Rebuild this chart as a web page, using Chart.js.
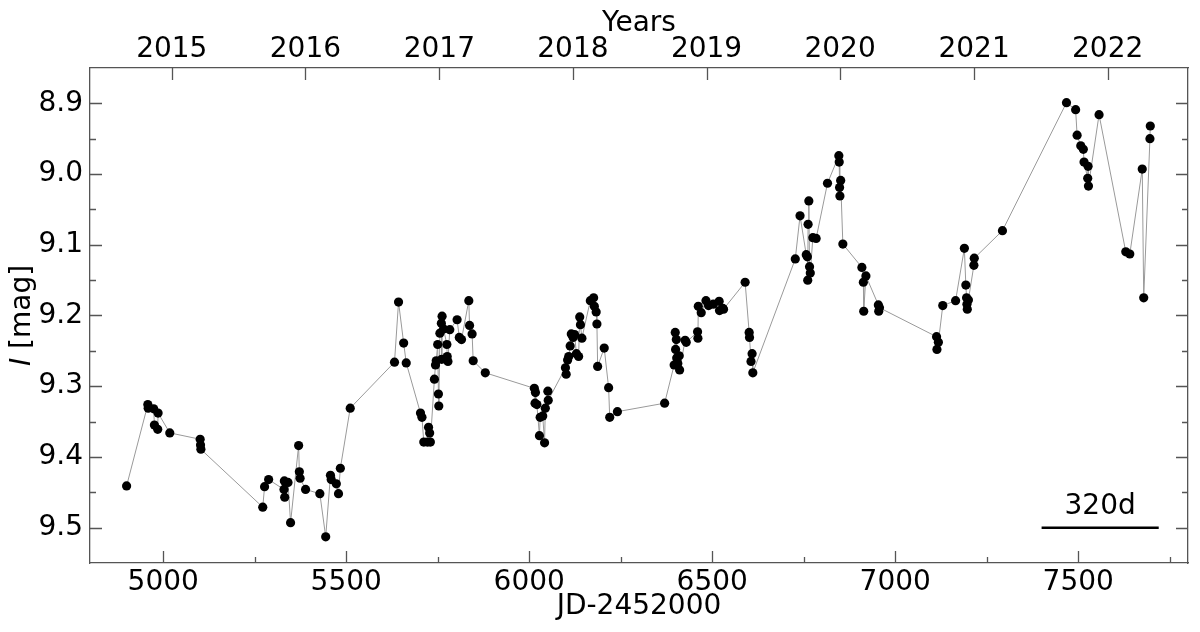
<!DOCTYPE html>
<html>
<head>
<meta charset="utf-8">
<script src="https://cdn.jsdelivr.net/npm/chart.js@4/dist/chart.umd.min.js"></script>
<style>
body { margin: 0; background: #fff; }
#wrap { width: 1200px; height: 632px; position: relative; }
</style>
</head>
<body>
<div id="wrap"><canvas id="lightCurve"></canvas></div>
<script>
// JD-2452000 and I magnitude
var jd = [4900, 4958, 4959, 4974, 4976, 4985, 4986, 5018, 5101, 5102, 5103,
    5272, 5277, 5288, 5330, 5331, 5332, 5341, 5348, 5370, 5372, 5374, 5389,
    5428, 5444, 5457, 5459, 5473, 5479, 5484, 5511,
    5632, 5643, 5657, 5664, 5703, 5707, 5712, 5722, 5725, 5728, 5730,
    5741, 5744, 5746, 5750, 5752, 5753, 5756, 5760, 5761, 5762, 5766,
    5775, 5776, 5778, 5783, 5803, 5809, 5815, 5835, 5837, 5844, 5847, 5880,
    6014, 6016, 6017, 6021, 6028, 6030, 6037, 6042, 6044, 6051, 6052,
    6099, 6101, 6105, 6108, 6112, 6115, 6120, 6124, 6129, 6135, 6138, 6140,
    6144, 6167, 6176, 6178, 6183, 6185, 6187, 6205, 6217, 6220, 6241,
    6370, 6396, 6399, 6400, 6402, 6403, 6406, 6410, 6411, 6426, 6429,
    6460, 6461, 6462, 6470, 6483, 6490, 6503, 6519, 6520, 6529, 6531,
    6590, 6601, 6602, 6606, 6609, 6611,
    6727, 6740, 6757, 6760, 6761, 6762, 6764, 6766, 6768, 6775, 6784,
    6815, 6846, 6847, 6848, 6849, 6851, 6857, 6909, 6913, 6914, 6920,
    6954, 6955, 6957,
    7113, 7114, 7118, 7130, 7165, 7189, 7193, 7195, 7196, 7197, 7200,
    7215, 7216, 7293,
    7468, 7493, 7497, 7507, 7514, 7516, 7526, 7527, 7528, 7557,
    7630, 7641, 7675, 7679, 7696, 7697];
var mag = [9.441, 9.326, 9.331, 9.332, 9.355, 9.361, 9.338, 9.366, 9.375, 9.383, 9.389,
    9.471, 9.442, 9.432, 9.446, 9.434, 9.457, 9.436, 9.493, 9.384, 9.421, 9.430, 9.446,
    9.452, 9.513, 9.426, 9.432, 9.438, 9.452, 9.416, 9.331,
    9.266, 9.181, 9.239, 9.267, 9.338, 9.344, 9.379, 9.379, 9.358, 9.366, 9.379,
    9.290, 9.270, 9.264, 9.241, 9.311, 9.328, 9.225, 9.211, 9.262, 9.201, 9.219,
    9.241, 9.258, 9.265, 9.220, 9.206, 9.231, 9.234, 9.179, 9.214, 9.226, 9.264, 9.281,
    9.303, 9.324, 9.309, 9.326, 9.370, 9.344, 9.342, 9.380, 9.331, 9.307, 9.320,
    9.274, 9.283, 9.263, 9.258, 9.243, 9.226, 9.231, 9.227, 9.254, 9.258, 9.202, 9.213,
    9.232, 9.179, 9.175, 9.187, 9.195, 9.212, 9.272, 9.246, 9.302, 9.344, 9.336,
    9.324, 9.270, 9.224, 9.248, 9.234, 9.260, 9.268, 9.257, 9.277, 9.235, 9.238,
    9.223, 9.232, 9.187, 9.196, 9.179, 9.186, 9.184, 9.180, 9.193, 9.190, 9.191,
    9.153, 9.224, 9.231, 9.265, 9.254, 9.281,
    9.120, 9.059, 9.114, 9.117, 9.150, 9.071, 9.038, 9.131, 9.140, 9.090, 9.091,
    9.013, 8.974, 8.983, 9.019, 9.031, 9.009, 9.099, 9.132, 9.153, 9.194, 9.144,
    9.185, 9.194, 9.189,
    9.230, 9.248, 9.238, 9.186, 9.179, 9.105, 9.157, 9.175, 9.184, 9.191, 9.178,
    9.129, 9.119, 9.080,
    8.899, 8.909, 8.945, 8.960, 8.965, 8.983, 9.006, 8.989, 9.017, 8.916,
    9.110, 9.113, 8.993, 9.175, 8.950, 8.932];

// axis ticks
var xTicks = [5000, 5500, 6000, 6500, 7000, 7500];
var yTicks = [8.9, 9.0, 9.1, 9.2, 9.3, 9.4, 9.5];
var yearTicks = [5023.5, 5388.5, 5754.5, 6119.5, 6484.5, 6849.5, 7215.5, 7580.5];
var yearLabels = ["2015", "2016", "2017", "2018", "2019", "2020", "2021", "2022"];

// 320 day scale bar
var barDays = [7400, 7720];
var barMag = [9.5, 9.5];
var barLabel = "320d";

var xMin = 4800, xMax = 7800, yMin = 8.85, yMax = 9.55;
var axisColor = "#555";
var fontName = "'DejaVu Sans', sans-serif";

var points = [];
for (var i = 0; i < jd.length; i++) {
    points.push({x: jd[i], y: mag[i]});
}
var barPoints = [];
for (i = 0; i < barDays.length; i++) {
    barPoints.push({x: barDays[i], y: barMag[i]});
}

function minorOf(major, lo, hi) {
    var step = major[1] - major[0];
    var out = [];
    for (var k = -1; k < major.length; k++) {
        var base = k < 0 ? major[0] - step : major[k];
        var v = base + step / 2;
        if (v > lo + 1e-9 && v < hi - 1e-9) out.push(v);
    }
    return out;
}

// ticks pointing into the plot, like the original
var innerTicks = {
    id: "innerTicks",
    afterDraw: function (chart) {
        var ctx = chart.ctx;
        var a = chart.chartArea;
        var sx = chart.scales.x, sy = chart.scales.y, sx2 = chart.scales.x2;
        ctx.save();
        ctx.strokeStyle = axisColor;
        ctx.lineWidth = 1.3;
        ctx.beginPath();
        xTicks.forEach(function (v) {
            var p = Math.round(sx.getPixelForValue(v)) + 0.5;
            ctx.moveTo(p, a.bottom); ctx.lineTo(p, a.bottom - 12);
        });
        minorOf(xTicks, xMin, xMax).forEach(function (v) {
            var p = Math.round(sx.getPixelForValue(v)) + 0.5;
            ctx.moveTo(p, a.bottom); ctx.lineTo(p, a.bottom - 6);
        });
        yearTicks.forEach(function (v) {
            var p = Math.round(sx2.getPixelForValue(v)) + 0.5;
            ctx.moveTo(p, a.top); ctx.lineTo(p, a.top + 12);
        });
        yTicks.forEach(function (v) {
            var p = Math.round(sy.getPixelForValue(v)) + 0.5;
            ctx.moveTo(a.left, p); ctx.lineTo(a.left + 12, p);
            ctx.moveTo(a.right, p); ctx.lineTo(a.right - 12, p);
        });
        minorOf(yTicks, yMin, yMax).forEach(function (v) {
            var p = Math.round(sy.getPixelForValue(v)) + 0.5;
            ctx.moveTo(a.left, p); ctx.lineTo(a.left + 6, p);
            ctx.moveTo(a.right, p); ctx.lineTo(a.right - 6, p);
        });
        ctx.stroke();

        // titles and the scale bar label
        ctx.fillStyle = "#000";
        ctx.font = "28px " + fontName;
        ctx.textAlign = "center";
        ctx.textBaseline = "alphabetic";
        var cx = (a.left + a.right) / 2;
        ctx.fillText("Years", cx, 31);
        ctx.fillText("JD-2452000", cx, 614);
        var bx = (sx.getPixelForValue(barDays[0]) + sx.getPixelForValue(barDays[1])) / 2;
        ctx.fillText(barLabel, bx, sy.getPixelForValue(barMag[0]) - 14);

        ctx.translate(30, (a.top + a.bottom) / 2);
        ctx.rotate(-Math.PI / 2);
        ctx.textAlign = "left";
        ctx.font = "italic 28px " + fontName;
        var w1 = ctx.measureText("I").width;
        ctx.font = "28px " + fontName;
        var w2 = ctx.measureText(" [mag]").width;
        var x0 = -(w1 + w2) / 2;
        ctx.font = "italic 28px " + fontName;
        ctx.fillText("I", x0, 0);
        ctx.font = "28px " + fontName;
        ctx.fillText(" [mag]", x0 + w1, 0);
        ctx.restore();
    }
};

var tickFont = {family: fontName, size: 28};

new Chart(document.getElementById("lightCurve"), {
    type: "scatter",
    data: {
        datasets: [{
            data: points,
            showLine: true,
            borderColor: "#9a9a9a",
            borderWidth: 1,
            pointRadius: 4.6,
            pointHoverRadius: 4.6,
            pointBackgroundColor: "#000",
            pointBorderWidth: 0,
            xAxisID: "x",
            yAxisID: "y"
        }, {
            data: barPoints,
            showLine: true,
            borderColor: "#000",
            borderWidth: 2.5,
            pointRadius: 0,
            xAxisID: "x",
            yAxisID: "y"
        }]
    },
    options: {
        responsive: true,
        maintainAspectRatio: false,
        animation: false,
        layout: {padding: 0},
        plugins: {legend: {display: false}, tooltip: {enabled: false}},
        scales: {
            x: {
                type: "linear", position: "bottom", min: xMin, max: xMax,
                grid: {display: false, drawTicks: false},
                border: {display: true, color: axisColor, width: 1.3},
                ticks: {font: tickFont, color: "#000", padding: 3, maxRotation: 0,
                    autoSkip: false, callback: function (v) { return String(v); }},
                afterBuildTicks: function (s) { s.ticks = xTicks.map(function (v) { return {value: v}; }); },
                afterFit: function (s) { s.height = 69; }
            },
            x2: {
                type: "linear", position: "top", min: xMin, max: xMax, display: true,
                grid: {display: false, drawTicks: false},
                border: {display: true, color: axisColor, width: 1.3},
                ticks: {font: tickFont, color: "#000", padding: 1, maxRotation: 0,
                    autoSkip: false, callback: function (v, idx) { return yearLabels[idx]; }},
                afterBuildTicks: function (s) { s.ticks = yearTicks.map(function (v) { return {value: v}; }); },
                afterFit: function (s) { s.height = 68; }
            },
            y: {
                type: "linear", position: "left", reverse: true, min: yMin, max: yMax,
                grid: {display: false, drawTicks: false},
                border: {display: true, color: axisColor, width: 1.3},
                ticks: {font: tickFont, color: "#000", padding: 7, autoSkip: false,
                    callback: function (v) { return v.toFixed(1); }},
                afterBuildTicks: function (s) { s.ticks = yTicks.map(function (v) { return {value: v}; }); },
                afterFit: function (s) { s.width = 90; }
            },
            y2: {
                type: "linear", position: "right", reverse: true, min: yMin, max: yMax, display: true,
                grid: {display: false, drawTicks: false},
                border: {display: true, color: axisColor, width: 1.3},
                ticks: {display: false},
                afterFit: function (s) { s.width = 12; }
            }
        }
    },
    plugins: [innerTicks]
});
</script>
</body>
</html>
